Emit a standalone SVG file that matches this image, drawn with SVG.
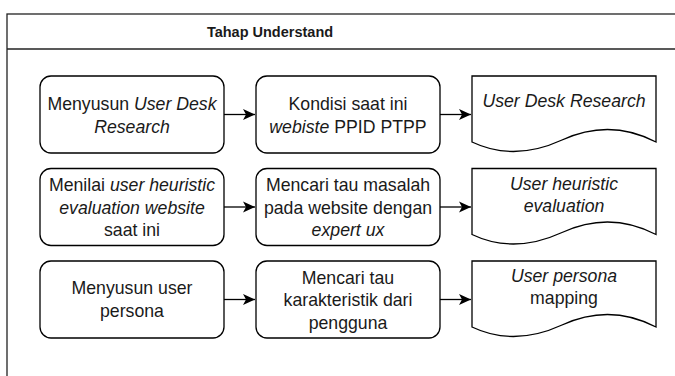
<svg xmlns="http://www.w3.org/2000/svg" width="675" height="376" viewBox="0 0 675 376">
<defs>
<style>
.box{fill:#fff;stroke:#000;stroke-width:1.3}
.t{font-family:"Liberation Sans",Arial,sans-serif;font-size:17.7px;fill:#1a1a1a;text-anchor:middle}
.i{font-style:italic}
.edge{stroke:#000;stroke-width:1.3;fill:none}
</style>
<marker id="ah" markerWidth="14" markerHeight="14" refX="12" refY="6" orient="auto" markerUnits="userSpaceOnUse">
<path d="M0,0.5 L12,6 L0,11.5 L3,6 Z" fill="#000"/>
</marker>
</defs>
<rect width="675" height="376" fill="#fff"/>
<g id="container">
<rect x="7" y="14" width="700" height="400" fill="#fff" stroke="#222" stroke-width="1.3"/>
<line x1="7" y1="49" x2="707" y2="49" stroke="#222" stroke-width="1.3"/>
<text x="270" y="37" class="t" style="font-weight:bold;font-size:14.5px">Tahap Understand</text>
</g>
<g id="connectors">
<line class="edge" x1="224" y1="114.5" x2="255" y2="114.5" marker-end="url(#ah)"/>
<line class="edge" x1="440" y1="114.5" x2="471" y2="114.5" marker-end="url(#ah)"/>
<line class="edge" x1="224" y1="207" x2="255" y2="207" marker-end="url(#ah)"/>
<line class="edge" x1="440" y1="207" x2="471" y2="207" marker-end="url(#ah)"/>
<line class="edge" x1="224" y1="299.5" x2="255" y2="299.5" marker-end="url(#ah)"/>
<line class="edge" x1="440" y1="299.5" x2="471" y2="299.5" marker-end="url(#ah)"/>
</g>
<g id="n1">
<rect class="box" x="40" y="76" width="184" height="77" rx="11"/>
<text class="t" x="132" y="109.5"><tspan>Menyusun </tspan><tspan class="i">User Desk</tspan></text>
<text class="t i" x="132" y="132.5">Research</text>
</g>
<g id="n2">
<rect class="box" x="256" y="76" width="184" height="77" rx="11"/>
<text class="t" x="348" y="109.5">Kondisi saat ini</text>
<text class="t" x="348" y="132.5"><tspan class="i">webiste</tspan><tspan> PPID PTPP</tspan></text>
</g>
<g id="n3">
<path class="box" d="M472,76 H656 V142 Q610,118 562,140 Q514,162 472,142 Z"/>
<text class="t i" x="564" y="107">User Desk Research</text>
</g>
<g id="n4">
<rect class="box" x="40" y="168.5" width="184" height="77" rx="11"/>
<text class="t" x="132" y="191"><tspan>Menilai </tspan><tspan class="i">user heuristic</tspan></text>
<text class="t i" x="132" y="213.5">evaluation website</text>
<text class="t" x="132" y="236">saat ini</text>
</g>
<g id="n5">
<rect class="box" x="256" y="168.5" width="184" height="77" rx="11"/>
<text class="t" x="348" y="191">Mencari tau masalah</text>
<text class="t" x="348" y="213.5">pada website dengan</text>
<text class="t i" x="348" y="236">expert ux</text>
</g>
<g id="n6">
<path class="box" d="M472,168.5 H656 V234.5 Q610,210.5 562,232.5 Q514,254.5 472,234.5 Z"/>
<text class="t i" x="564" y="189.5">User heuristic</text>
<text class="t i" x="564" y="212">evaluation</text>
</g>
<g id="n7">
<rect class="box" x="40" y="261" width="184" height="77" rx="11"/>
<text class="t" x="132" y="294">Menyusun user</text>
<text class="t" x="132" y="317">persona</text>
</g>
<g id="n8">
<rect class="box" x="256" y="261" width="184" height="77" rx="11"/>
<text class="t" x="348" y="283.5">Mencari tau</text>
<text class="t" x="348" y="306">karakteristik dari</text>
<text class="t" x="348" y="328.5">pengguna</text>
</g>
<g id="n9">
<path class="box" d="M472,261 H656 V327 Q610,303 562,325 Q514,347 472,327 Z"/>
<text class="t i" x="564" y="282">User persona</text>
<text class="t" x="564" y="304">mapping</text>
</g>
</svg>
